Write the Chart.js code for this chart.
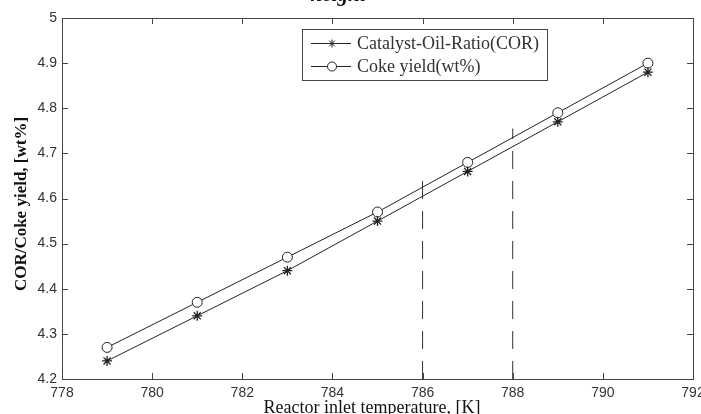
<!DOCTYPE html>
<html>
<head>
<meta charset="utf-8">
<script src="https://cdn.jsdelivr.net/npm/chart.js@4.4.0/dist/chart.umd.min.js"></script>
<style>
html,body{margin:0;padding:0;background:#fff;}
#wrap{width:701px;height:414px;position:relative;}
</style>
</head>
<body>
<div id="wrap"><canvas id="c" width="701" height="414"></canvas></div>
<script>
const temperatures = [779, 781, 783, 785, 787, 789, 791];
const corValues = [4.24, 4.34, 4.44, 4.55, 4.66, 4.77, 4.88];
const cokeValues = [4.27, 4.37, 4.47, 4.57, 4.68, 4.79, 4.90];
const dashLineA = [{x: 786, y: 4.2}, {x: 786, y: 4.66}];
const dashLineB = [{x: 788, y: 4.2}, {x: 788, y: 4.755}];
const xTicks = [778, 780, 782, 784, 786, 788, 790, 792];
const yTicks = [4.2, 4.3, 4.4, 4.5, 4.6, 4.7, 4.8, 4.9, 5];
const seriesNames = ['Catalyst-Oil-Ratio(COR)', 'Coke yield(wt%)'];
const titleText = 'height';
const xTitle = 'Reactor inlet temperature, [K]';
const yTitle = 'COR/Coke yield, [wt%]';

const ink = '#222';
const axisInk = '#444';

const decor = {
  id: 'decor',
  afterDraw(chart) {
    const {ctx, chartArea: a, scales: {x, y}} = chart;
    ctx.save();
    ctx.strokeStyle = axisInk;
    ctx.lineWidth = 1;
    ctx.strokeRect(Math.round(a.left) + 0.5, Math.round(a.top) + 0.5, Math.round(a.right - a.left), Math.round(a.bottom - a.top));
    ctx.beginPath();
    xTicks.forEach(v => {
      const px = Math.round(x.getPixelForValue(v)) + 0.5;
      ctx.moveTo(px, a.bottom); ctx.lineTo(px, a.bottom - 6);
      ctx.moveTo(px, a.top); ctx.lineTo(px, a.top + 6);
    });
    yTicks.forEach(v => {
      const py = Math.round(y.getPixelForValue(v)) + 0.5;
      ctx.moveTo(a.left, py); ctx.lineTo(a.left + 6, py);
      ctx.moveTo(a.right, py); ctx.lineTo(a.right - 6, py);
    });
    ctx.stroke();
    ctx.fillStyle = '#111';
    ctx.font = 'bold italic 21px "Liberation Serif", "Times New Roman", serif';
    ctx.textAlign = 'center';
    ctx.textBaseline = 'alphabetic';
    ctx.fillText(titleText, 338, 1);
    ctx.font = '18px "Liberation Serif", "Times New Roman", serif';
    ctx.fillText(xTitle, 372, 413);
    ctx.save();
    ctx.translate(22, 204);
    ctx.rotate(-Math.PI / 2);
    ctx.font = 'bold 17px "Liberation Serif", "Times New Roman", serif';
    ctx.textBaseline = 'middle';
    ctx.fillText(yTitle, 0, 0);
    ctx.restore();
    const lx = 302, ly = 29, lw = 245, lh = 51;
    ctx.fillStyle = '#fff';
    ctx.fillRect(lx, ly, lw, lh);
    ctx.strokeStyle = axisInk;
    ctx.strokeRect(lx + 0.5, ly + 0.5, lw, lh);
    const rows = [ly + 14, ly + 37];
    ctx.font = '18px "Liberation Serif", "Times New Roman", serif';
    ctx.textAlign = 'left';
    ctx.textBaseline = 'middle';
    rows.forEach((ry, i) => {
      ctx.strokeStyle = ink;
      ctx.beginPath();
      ctx.moveTo(311, ry + 0.5); ctx.lineTo(351, ry + 0.5);
      ctx.stroke();
      if (i === 0) {
        Chart.helpers.drawPoint(ctx, {pointStyle: 'star', radius: 4, rotation: 0, borderWidth: 1}, 332, ry + 0.5);
      } else {
        ctx.fillStyle = '#fff';
        ctx.beginPath(); ctx.arc(332, ry + 0.5, 4.5, 0, Math.PI * 2); ctx.fill(); ctx.stroke();
      }
      ctx.fillStyle = '#333';
      ctx.fillText(seriesNames[i], 357, ry + 1);
    });
    ctx.restore();
  }
};

const toPts = vals => temperatures.map((t, i) => ({x: t, y: vals[i]}));

new Chart(document.getElementById('c'), {
  type: 'line',
  data: {
    datasets: [
      {label: seriesNames[0], data: toPts(corValues), borderColor: ink, borderWidth: 1, pointStyle: 'star', pointRadius: 5, pointBorderColor: ink, pointBorderWidth: 1.3, pointBackgroundColor: ink, tension: 0},
      {label: seriesNames[1], data: toPts(cokeValues), borderColor: ink, borderWidth: 1, pointStyle: 'circle', pointRadius: 5, pointBorderColor: ink, pointBorderWidth: 1, pointBackgroundColor: '#fff', tension: 0},
      {label: 'd1', data: dashLineA, borderColor: '#333', borderWidth: 1, borderDash: [18, 12], pointRadius: 0},
      {label: 'd2', data: dashLineB, borderColor: '#333', borderWidth: 1, borderDash: [18, 12], pointRadius: 0}
    ]
  },
  options: {
    responsive: false,
    animation: false,
    devicePixelRatio: 1,
    layout: {padding: {left: 0, right: 8, top: 18, bottom: 0}},
    plugins: {legend: {display: false}, tooltip: {enabled: false}},
    scales: {
      x: {
        type: 'linear', min: 778, max: 792,
        afterBuildTicks: s => { s.ticks = xTicks.map(v => ({value: v})); },
        afterFit: s => { s.height = 35; s.paddingRight = 0; s.paddingLeft = 0; },
        grid: {display: false, drawTicks: false},
        border: {display: false},
        ticks: {color: '#333', font: {family: '"Liberation Sans", Arial, sans-serif', size: 14}, padding: 6, maxRotation: 0, callback: v => String(v)}
      },
      y: {
        type: 'linear', min: 4.2, max: 5,
        afterBuildTicks: s => { s.ticks = yTicks.map(v => ({value: v})); },
        afterFit: s => { s.width = 62; s.paddingTop = 0; s.paddingBottom = 0; },
        grid: {display: false, drawTicks: false},
        border: {display: false},
        ticks: {color: '#333', font: {family: '"Liberation Sans", Arial, sans-serif', size: 14}, padding: 5, callback: v => String(Number(v.toFixed(1)))}
      }
    }
  },
  plugins: [decor]
});
</script>
</body>
</html>
